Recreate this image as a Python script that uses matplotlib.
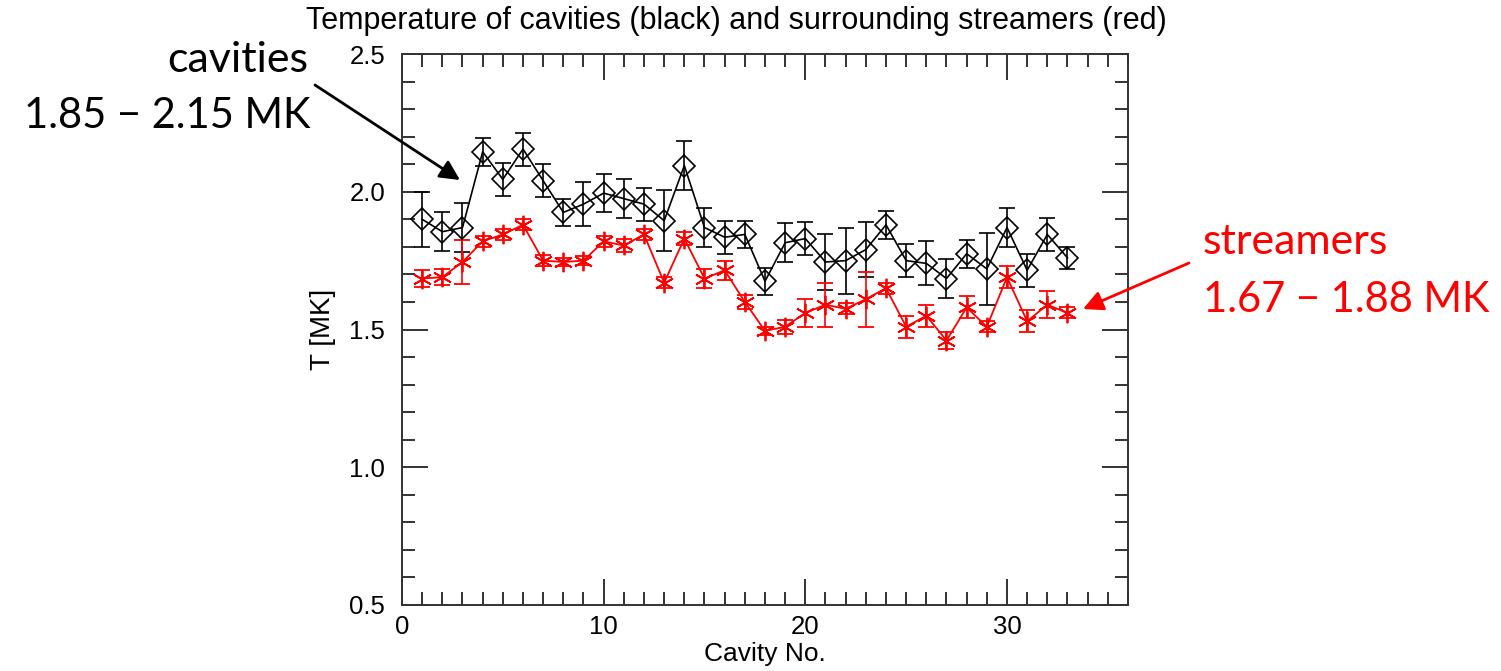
import matplotlib
matplotlib.use('Agg')
import matplotlib.pyplot as plt
from matplotlib.ticker import MultipleLocator

# cavity temperatures (black) with errors
cavity_no = list(range(1, 34))
cav_T = [1.90, 1.855, 1.87, 2.145, 2.045, 2.155, 2.04, 1.925, 1.955, 1.995, 1.975,
         1.955, 1.895, 2.095, 1.87, 1.835, 1.845, 1.675, 1.815, 1.83, 1.745, 1.75,
         1.79, 1.88, 1.75, 1.74, 1.685, 1.775, 1.72, 1.87, 1.715, 1.845, 1.76]
cav_err = [0.10, 0.07, 0.09, 0.05, 0.06, 0.06, 0.06, 0.05, 0.08, 0.07, 0.07,
           0.06, 0.11, 0.09, 0.07, 0.06, 0.05, 0.05, 0.07, 0.06, 0.10, 0.12,
           0.10, 0.05, 0.06, 0.08, 0.07, 0.05, 0.13, 0.07, 0.06, 0.06, 0.04]

# surrounding streamer temperatures (red) with errors
str_T = [1.685, 1.69, 1.745, 1.82, 1.845, 1.88, 1.75, 1.745, 1.75, 1.82, 1.805,
         1.845, 1.67, 1.83, 1.685, 1.715, 1.60, 1.495, 1.51, 1.56, 1.59, 1.575,
         1.61, 1.65, 1.51, 1.55, 1.46, 1.58, 1.51, 1.69, 1.53, 1.59, 1.56]
str_err = [0.03, 0.03, 0.08, 0.02, 0.02, 0.02, 0.02, 0.015, 0.015, 0.02, 0.025,
           0.02, 0.02, 0.025, 0.035, 0.035, 0.025, 0.015, 0.025, 0.05, 0.08, 0.02,
           0.10, 0.02, 0.04, 0.04, 0.03, 0.04, 0.02, 0.04, 0.04, 0.05, 0.02]

title = 'Temperature of cavities (black) and surrounding streamers (red)'
cav_label = ['cavities', '1.85 \u2212 2.15 MK']
str_label = ['streamers', '1.67 \u2212 1.88 MK']

W, H = 1501, 671
plt.rcParams['font.family'] = ['Liberation Sans', 'DejaVu Sans']

fig = plt.figure(figsize=(W / 100, H / 100), dpi=100)
ax = fig.add_axes([402 / W, 1 - 605 / H, (1128 - 402) / W, (605 - 54) / H])

ax.errorbar(cavity_no, cav_T, yerr=cav_err, color='black', lw=1.2,
            marker='D', markersize=11, markerfacecolor='none', markeredgewidth=1.2,
            capsize=6, elinewidth=1.2, capthick=1.2)
ax.errorbar(cavity_no, str_T, yerr=str_err, color='red', lw=1.3,
            marker=(6, 2, 0), markersize=14, markeredgewidth=1.3,
            capsize=6, elinewidth=1.2, capthick=1.2)

ax.set_xlim(0, 36)
ax.set_ylim(0.5, 2.5)
ax.xaxis.set_major_locator(MultipleLocator(10))
ax.xaxis.set_minor_locator(MultipleLocator(1))
ax.yaxis.set_major_locator(MultipleLocator(0.5))
ax.yaxis.set_minor_locator(MultipleLocator(0.1))
ax.yaxis.set_major_formatter(plt.FormatStrFormatter('%.1f'))

for s in ax.spines.values():
    s.set_linewidth(1.4)
    s.set_color('#333333')
ax.tick_params(which='both', direction='in', top=True, right=True,
               color='#333333', width=1.4, labelsize=18.5)
ax.tick_params(which='major', length=18.5)
ax.tick_params(which='minor', length=9.5)
ax.tick_params(axis='y', pad=12)
ax.tick_params(axis='x', pad=7)

ax.set_xlabel('Cavity No.', fontsize=19, labelpad=2)
ax.set_ylabel('T [MK]', fontsize=20, labelpad=10)

fig.text(736 / W, 1 - 29 / H, title, ha='center', va='baseline', fontsize=22)

# annotations
fig.text(308 / W, 1 - 72 / H, cav_label[0], ha='right', va='baseline',
         fontsize=31, family='Lato')
fig.text(310 / W, 1 - 128 / H, cav_label[1], ha='right', va='baseline',
         fontsize=30, family='Lato')
fig.text(1203 / W, 1 - 254 / H, str_label[0], ha='left', va='baseline',
         fontsize=31, family='Lato', color='red')
fig.text(1203 / W, 1 - 312 / H, str_label[1], ha='left', va='baseline',
         fontsize=30, family='Lato', color='red')

ax.annotate('', xy=(460 / W, 1 - 180 / H), xytext=(315 / W, 1 - 85 / H),
            xycoords='figure fraction', textcoords='figure fraction',
            arrowprops=dict(arrowstyle='-|>', color='black', lw=2,
                            mutation_scale=30, shrinkA=0, shrinkB=0))
ax.annotate('', xy=(1083 / W, 1 - 309 / H), xytext=(1189 / W, 1 - 263 / H),
            xycoords='figure fraction', textcoords='figure fraction',
            arrowprops=dict(arrowstyle='-|>', color='red', lw=2,
                            mutation_scale=30, shrinkA=0, shrinkB=0))

fig.savefig('out.png', dpi=100)
